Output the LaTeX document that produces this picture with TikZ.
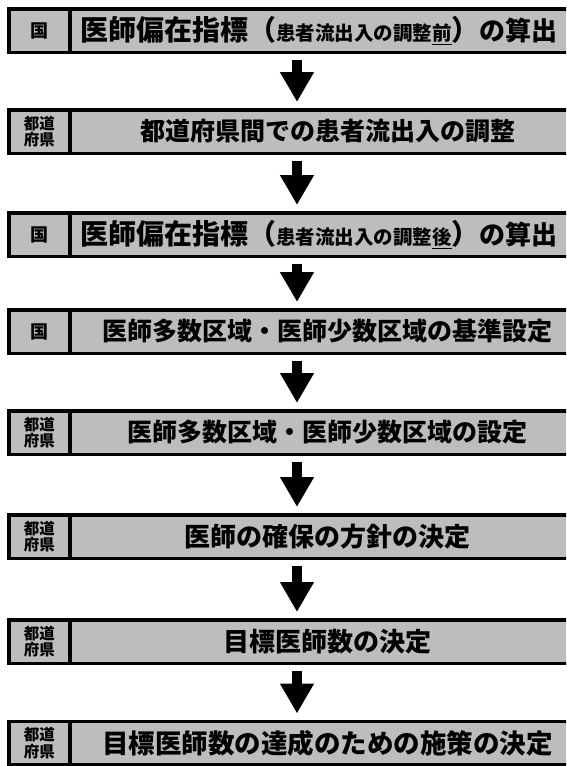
\documentclass[tikz,border=0pt]{standalone}
\usepackage{fontspec}
\newfontfamily\jp{Noto Sans CJK JP}
\usetikzlibrary{arrows.meta}
\tikzset{
  cell/.style={draw=black, line width=3.5pt, fill=black!26, rectangle, inner sep=0pt, text=black},
  who/.style={cell, minimum width=61.25pt, minimum height=43.5pt, align=center,
     font=\jp\bfseries\fontsize{15.5}{16.5}\selectfont},
  whonat/.style={who, font=\jp\bfseries\fontsize{18}{18}\selectfont},
  task/.style={cell, minimum width=515pt, minimum height=43.5pt,
     font=\jp\bfseries\fontsize{26}{28}\selectfont},
  flow/.style={line width=10pt, -{Triangle[width=32pt,length=30pt]},
     shorten <=5.5pt, shorten >=6pt}
}
\newcommand{\smalltxt}[1]{{\fontsize{19.5}{21}\selectfont #1}}
\newcommand{\bigtxt}[1]{{\fontsize{28}{30}\selectfont #1}}
\begin{document}
\begin{tikzpicture}[x=1pt, y=-1pt]
\useasboundingbox (0,0) rectangle (566,766);
\clip (0,0) rectangle (566,766);
\coordinate (ax) at (297,0);
% box 1
\node[whonat] (w1) at (39.4,30.5) {国};
\node[task] (b1) at (327.5,30.5) {\hspace*{-17pt}\bigtxt{医師偏在指標（}\smalltxt{患者流出入の調整\underline{前}}\bigtxt{）}の算出};
% box 2
\node[who] (w2) at (39.4,131.5) {都道\\府県};
\node[task, font=\jp\bfseries\fontsize{25}{28}\selectfont] (b2) at (327.5,131.5) {都道府県間での患者流出入の調整};
% box 3
\node[whonat] (w3) at (39.4,234.5) {国};
\node[task] (b3) at (327.5,234.5) {\hspace*{-17pt}\bigtxt{医師偏在指標（}\smalltxt{患者流出入の調整\underline{後}}\bigtxt{）}の算出};
% box 4
\node[whonat] (w4) at (39.4,331.5) {国};
\node[task, font=\jp\bfseries\fontsize{25}{28}\selectfont] (b4) at (327.5,331.5) {医師多数区域・医師少数区域の基準設定};
% box 5
\node[who] (w5) at (39.4,432.5) {都道\\府県};
\node[task, font=\jp\bfseries\fontsize{25}{28}\selectfont] (b5) at (327.5,432.5) {医師多数区域・医師少数区域の設定};
% box 6
\node[who] (w6) at (39.4,536.5) {都道\\府県};
\node[task] (b6) at (327.5,536.5) {医師の確保の方針の決定};
% box 7
\node[who] (w7) at (39.4,641.5) {都道\\府県};
\node[task] (b7) at (327.5,641.5) {目標医師数の決定};
% box 8
\node[who] (w8) at (39.4,743) {都道\\府県};
\node[task, font=\jp\bfseries\fontsize{26.5}{28}\selectfont] (b8) at (327.5,743) {目標医師数の達成のための施策の決定};
% arrows
\draw[flow] (b1.south -| ax) -- (b2.north -| ax);
\draw[flow] (b2.south -| ax) -- (b3.north -| ax);
\draw[flow] (b3.south -| ax) -- (b4.north -| ax);
\draw[flow] (b4.south -| ax) -- (b5.north -| ax);
\draw[flow] (b5.south -| ax) -- (b6.north -| ax);
\draw[flow] (b6.south -| ax) -- (b7.north -| ax);
\draw[flow] (b7.south -| ax) -- (b8.north -| ax);
\end{tikzpicture}
\end{document}
